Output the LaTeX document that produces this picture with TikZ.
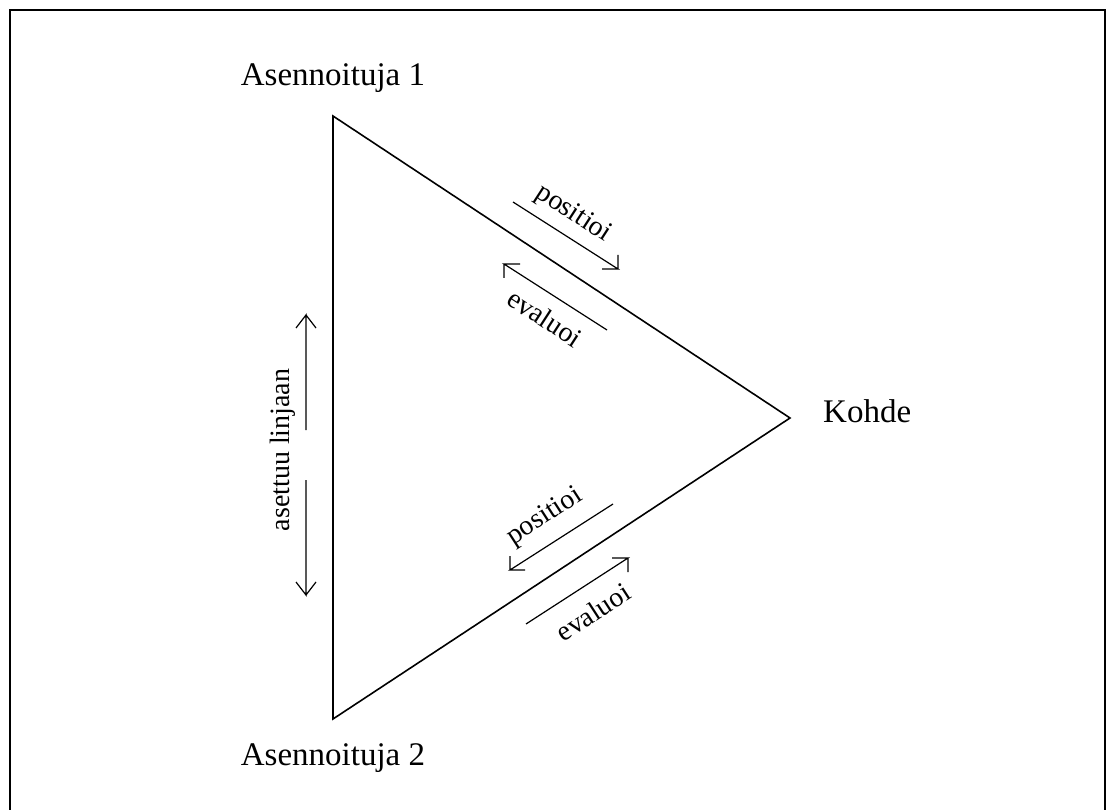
\documentclass[tikz,border=0pt]{standalone}
\usepackage{fontspec}
\setmainfont{Liberation Serif}
\begin{document}
\begin{tikzpicture}[x=1pt,y=-1pt,
  bigtxt/.style={inner sep=0pt,font=\fontsize{33}{40}\selectfont},
  smalltxt/.style={inner sep=0pt,font=\fontsize{28}{34}\selectfont},
  tri/.style={line width=1.6pt},
  arr/.style={line width=1.2pt},
  frame/.style={line width=2pt}]
\useasboundingbox (0,0) rectangle (1106,810);
% frame
\draw[frame] (10,810) -- (10,10) -- (1105,10) -- (1105,810);
% triangle
\coordinate (A1) at (333,116);
\coordinate (K) at (790,418);
\coordinate (A2) at (333,719);
\draw[tri] (A1) -- (K) -- (A2) -- cycle;
% labels
\node[bigtxt,anchor=base] (l1) at (333,86) {Asennoituja 1};
\node[bigtxt,anchor=base] (l2) at (333,765) {Asennoituja 2};
\node[bigtxt,anchor=base west] (lk) at (823,422) {Kohde};
% top arrows
\coordinate (p1s) at (513,202); \coordinate (p1t) at (618,269);
\draw[arr] (p1s) -- (p1t) -- ++(-16,0) (p1t) -- ++(0,-14);
\node[smalltxt,rotate=-33] (tp) at (573,214) {positioi};
\coordinate (e1s) at (607,330); \coordinate (e1t) at (504,264);
\draw[arr] (e1s) -- (e1t) -- ++(16,0) (e1t) -- ++(0,14);
\node[smalltxt,rotate=-33] (te) at (545,318) {evaluoi};
% bottom arrows
\coordinate (p2s) at (613,504); \coordinate (p2t) at (510,570);
\draw[arr] (p2s) -- (p2t) -- ++(15,0) (p2t) -- ++(0,-14);
\node[smalltxt,rotate=33] (bp) at (545,517) {positioi};
\coordinate (e2s) at (526,624); \coordinate (e2t) at (628,558);
\draw[arr] (e2s) -- (e2t) -- ++(-16,0) (e2t) -- ++(0,14);
\node[smalltxt,rotate=33] (be) at (593,612) {evaluoi};
% vertical arrow
\coordinate (vt) at (306,315); \coordinate (vu) at (306,430);
\coordinate (vl) at (306,480); \coordinate (vb) at (306,595);
\draw[arr] (vu) -- (vt) -- ++(-10,13) (vt) -- ++(10,13);
\draw[arr] (vl) -- (vb) -- ++(-10,-13) (vb) -- ++(10,-13);
\node[smalltxt,rotate=90] (vtxt) at (283,450) {asettuu linjaan};
\end{tikzpicture}
\end{document}
